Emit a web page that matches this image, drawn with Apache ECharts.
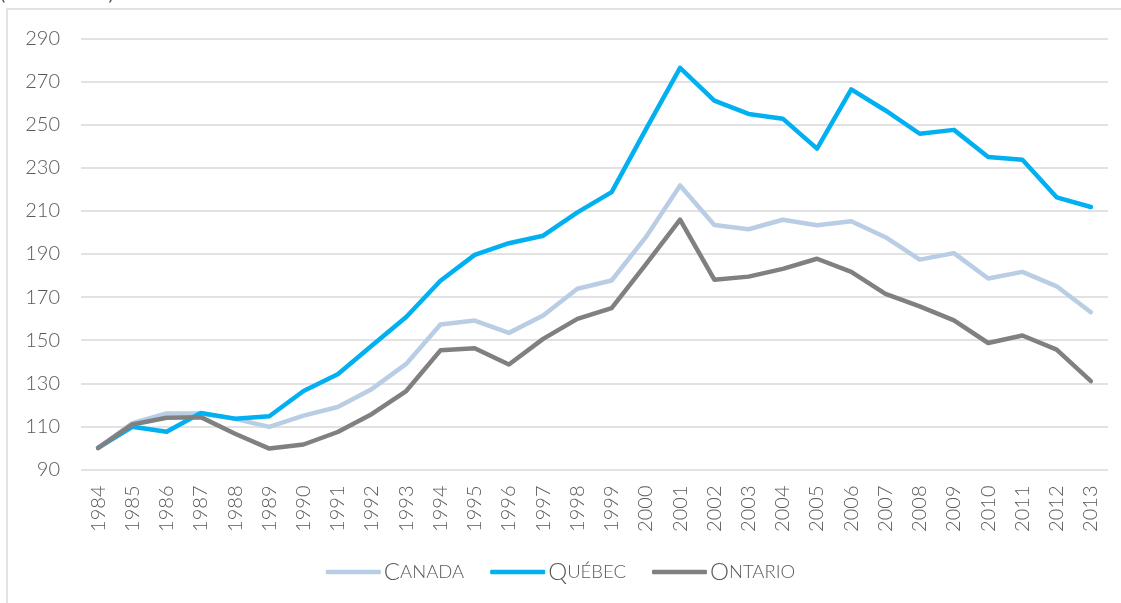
<!DOCTYPE html>
<html>
<head>
<meta charset="utf-8">
<style>
  html, body { margin: 0; padding: 0; background: #ffffff; }
  #chart { width: 1121px; height: 603px; }
</style>
<script src="https://cdn.jsdelivr.net/npm/echarts@6/dist/echarts.min.js"></script>
</head>
<body>
<div id="chart"></div>
<script>
// Index values, 1984 = 100
const years = ['1984','1985','1986','1987','1988','1989','1990','1991','1992','1993',
  '1994','1995','1996','1997','1998','1999','2000','2001','2002','2003',
  '2004','2005','2006','2007','2008','2009','2010','2011','2012','2013'];

const canada = [100, 111.5, 116, 116, 113.5, 109.8, 115, 119, 127.4, 139,
  157.3, 159.1, 153.4, 161.5, 173.9, 177.7, 197.8, 221.8, 203.5, 201.5,
  205.9, 203.3, 205.2, 197.8, 187.4, 190.4, 178.6, 181.7, 175, 163];

const quebec = [100, 109.8, 107.5, 116.2, 113.6, 114.7, 126.4, 134.2, 147.5, 160.8,
  177.6, 189.6, 195, 198.5, 209.3, 218.7, 247.8, 276.4, 261.2, 255,
  252.8, 238.9, 266.4, 256.6, 245.8, 247.6, 235, 233.7, 216.3, 211.8];

const ontario = [100, 110.9, 114, 114.3, 106.6, 99.7, 101.6, 107.4, 115.8, 126.4,
  145.3, 146.3, 138.7, 150.6, 159.9, 164.9, 185.2, 205.9, 178.1, 179.5,
  183.1, 187.8, 181.7, 171.5, 165.7, 159.2, 148.7, 152.2, 145.6, 131];

const seriesNames = ['Canada', 'Québec', 'Ontario'];
const seriesColors = ['#b9cde5', '#00b0f0', '#808080'];

const yMin = 90, yMax = 290, yStep = 20;

const fontFamily = 'Lato, "Open Sans", sans-serif';
const textColor = '#595959';

const chart = echarts.init(document.getElementById('chart'));

function mkLine(name, data, color) {
  return {
    name: name,
    type: 'line',
    data: data,
    symbol: 'none',
    smooth: false,
    lineStyle: { color: color, width: 4.5, cap: 'round', join: 'round' },
    itemStyle: { color: color },
    z: 3
  };
}

chart.setOption({
  animation: false,
  backgroundColor: '#ffffff',
  graphic: [
    {
      type: 'rect',
      shape: { x: 7, y: 9, width: 1300, height: 800 },
      style: { fill: 'none', stroke: '#d9d9d9', lineWidth: 1.5 },
      silent: true,
      z: 0
    },
    {
      type: 'text',
      left: 0,
      top: -16,
      style: { text: '(1984 = 100)', font: '20px ' + fontFamily, fill: textColor },
      silent: true
    }
  ],
  grid: { left: 81, right: 13, top: 38.5, bottom: 133.5, containLabel: false },
  legend: {
    bottom: 14,
    left: 'center',
    itemWidth: 55,
    itemHeight: 4.5,
    itemGap: 26,
    icon: 'roundRect',
    data: seriesNames,
    formatter: function (name) {
      const up = name.toUpperCase();
      return '{big|' + up.charAt(0) + '}{small|' + up.slice(1) + '}';
    },
    textStyle: {
      color: textColor,
      fontFamily: fontFamily,
      padding: [0, 0, 0, -2],
      rich: {
        big: { fontSize: 24, color: textColor, fontFamily: fontFamily, fontWeight: 300 },
        small: { fontSize: 18.5, color: textColor, fontFamily: fontFamily, fontWeight: 300 }
      }
    }
  },
  xAxis: {
    type: 'category',
    data: years,
    boundaryGap: true,
    axisLine: { show: false },
    axisTick: { show: false },
    axisLabel: {
      rotate: 90,
      margin: 16,
      color: textColor,
      fontFamily: fontFamily,
      fontSize: 20,
      fontWeight: 300,
      interval: 0
    },
    splitLine: { show: false }
  },
  yAxis: {
    type: 'value',
    min: yMin,
    max: yMax,
    interval: yStep,
    axisLine: { show: false },
    axisTick: { show: false },
    axisLabel: {
      margin: 21,
      color: textColor,
      fontFamily: fontFamily,
      fontSize: 20,
      fontWeight: 300
    },
    splitLine: { show: true, lineStyle: { color: '#d9d9d9', width: 1.5 } }
  },
  series: [
    mkLine(seriesNames[0], canada, seriesColors[0]),
    mkLine(seriesNames[1], quebec, seriesColors[1]),
    mkLine(seriesNames[2], ontario, seriesColors[2])
  ]
});
</script>
</body>
</html>
